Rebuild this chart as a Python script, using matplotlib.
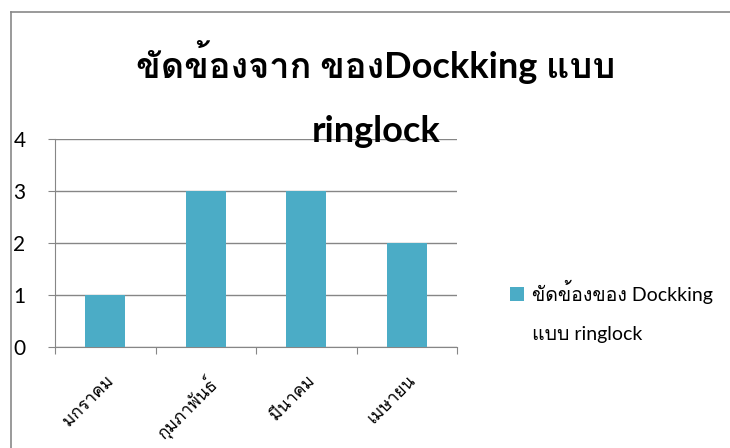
import matplotlib
matplotlib.use("Agg")
import matplotlib.pyplot as plt
from matplotlib import font_manager
from matplotlib.ft2font import FT2Font
from matplotlib.lines import Line2D
from matplotlib.patches import Patch, Rectangle
from matplotlib.legend_handler import HandlerPatch

# chart data
months = ["มกราคม", "กุมภาพันธ์", "มีนาคม", "เมษายน"]
stops = [1, 3, 3, 2]
series_name = "ขัดข้องของ Dockking\nแบบ ringlock"
chart_title = "ขัดข้องจาก ของDockking แบบ\nringlock"
y_ticks = [0, 1, 2, 3, 4]

BAR_COLOR = "#4BACC6"
GRID_COLOR = "#868686"


def find_thai_font():
    # first installed family that has Thai glyphs
    for f in font_manager.fontManager.ttflist:
        try:
            if 0x0E02 in FT2Font(f.fname).get_charmap():
                return f.name
        except Exception:
            pass
    return None


thai = find_thai_font()
thai_list = [thai] if thai else []
plt.rcParams["font.family"] = ["Lato"] + thai_list + ["DejaVu Sans"]

fig = plt.figure(figsize=(7.3, 4.48), dpi=100)
W, H = 730, 448
ax = fig.add_axes([55 / W, 1 - 347 / H, (457 - 55) / W, (347 - 139) / H])

x = list(range(len(months)))
ax.bar(x, stops, width=0.4, color=BAR_COLOR, zorder=3)

ax.set_xlim(-0.5, len(months) - 0.5)
ax.set_ylim(0, 4)
ax.set_yticks(y_ticks)
ax.yaxis.grid(True, color=GRID_COLOR, linewidth=1, zorder=0)

# category boundaries as major ticks, names on minor ticks
ax.set_xticks([i - 0.5 for i in range(len(months) + 1)])
ax.set_xticklabels([])
ax.set_xticks(x, minor=True)
ax.set_xticklabels(months, minor=True, rotation=45, ha="right",
                   rotation_mode="anchor", fontsize=12.5)
ax.tick_params(axis="x", which="minor", length=0, pad=18)
ax.tick_params(axis="x", which="major", length=5, color=GRID_COLOR)
# y labels sit at the far left, next to the frame
ax.tick_params(axis="y", length=5, color=GRID_COLOR, pad=25, labelsize=15)
for lab in ax.get_yticklabels():
    lab.set_horizontalalignment("left")

for side in ["top", "right"]:
    ax.spines[side].set_visible(False)
for side in ["left", "bottom"]:
    ax.spines[side].set_color(GRID_COLOR)

fig.text(376 / W, 1 - 94 / H, chart_title, ha="center", va="center",
         fontsize=26, fontweight="bold", linespacing=2.15,
         family=["Lato"] + thai_list + ["DejaVu Sans"])


def top_square(legend, orig_handle, xdescent, ydescent, width, height, fontsize):
    # keep the key square level with the first line of the label
    return Rectangle((-xdescent, -ydescent + 12.5), width, height)


handle = Patch(facecolor=BAR_COLOR)
leg = fig.legend([handle], [series_name], loc="upper left",
                 bbox_to_anchor=(493 / W, 1 - 262 / H), frameon=False,
                 fontsize=14, handlelength=0.68, handleheight=0.68,
                 handletextpad=0.4, labelspacing=0,
                 handler_map={Patch: HandlerPatch(patch_func=top_square)})
leg.get_texts()[0].set_linespacing(2.6)

# outer chart frame
frame = dict(color="#898989", linewidth=1.2, transform=fig.transFigure)
fig.add_artist(Line2D([11 / W, 1], [1 - 12 / H, 1 - 12 / H], **frame))
fig.add_artist(Line2D([11 / W, 11 / W], [0, 1 - 12 / H], **frame))

fig.savefig("out.png", dpi=100)
